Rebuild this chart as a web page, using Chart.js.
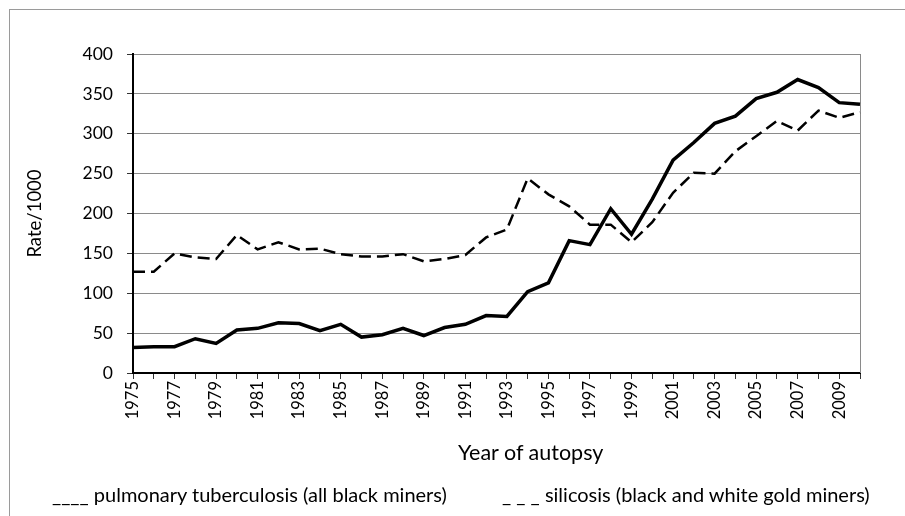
<!DOCTYPE html>
<html>
<head>
<meta charset="utf-8">
<script src="https://cdn.jsdelivr.net/npm/chart.js@4"></script>
<style>
  html, body { margin:0; padding:0; background:#fff; overflow:hidden; }
  #wrap { position:relative; width:905px; height:516px; overflow:hidden; font-family: Lato, "Open Sans", sans-serif; color:#000; }
  #frame { position:absolute; left:9px; top:9px; width:1000px; height:1000px; border-left:1px solid #9a9a9a; border-top:1px solid #9a9a9a; }
  canvas { position:absolute; left:0; top:0; }
  .txt { position:absolute; white-space:pre; font-size:20px; line-height:24px; }
</style>
</head>
<body>
<div id="wrap">
  <div id="frame"></div>
  <canvas id="c" width="905" height="516"></canvas>
  <div class="txt" id="xtitle" style="left:458px; top:439px; font-size:21.5px; line-height:26px;">Year of autopsy</div>
  <div class="txt" id="leg1" style="left:52px; top:482px;">____ pulmonary tuberculosis (all black miners)</div>
  <div class="txt" id="leg2" style="left:502px; top:482px;">_ _ _ silicosis (black and white gold miners)</div>
</div>
<script>
const years = ["1975","1976","1977","1978","1979","1980","1981","1982","1983","1984",
  "1985","1986","1987","1988","1989","1990","1991","1992","1993","1994",
  "1995","1996","1997","1998","1999","2000","2001","2002","2003","2004",
  "2005","2006","2007","2008","2009","2010"];
const tickLabels = ["1975","1977","1979","1981","1983","1985","1987","1989","1991",
  "1993","1995","1997","1999","2001","2003","2005","2007","2009"];
const tuberculosis = [32,33,33,43,37,54,56,63,62,53,61,45,48,56,47,57,61,72,71,102,
  113,166,161,206,174,218,267,289,313,322,344,352,368,358,339,337];
const silicosis = [127,127,150,145,143,173,155,164,155,156,149,146,146,149,140,143,148,170,180,244,
  224,209,186,186,164,189,226,251,250,278,297,316,304,329,320,327];
const yTicks = [0,50,100,150,200,250,300,350,400];

const plotFrame = {
  id: 'plotFrame',
  beforeDatasetsDraw(chart) {
    const a = chart.chartArea, ctx = chart.ctx;
    ctx.save();
    ctx.strokeStyle = '#8a8a8a';
    ctx.lineWidth = 1;
    ctx.beginPath();
    ctx.moveTo(Math.round(a.right) + 0.5, a.top);
    ctx.lineTo(Math.round(a.right) + 0.5, a.bottom);
    ctx.stroke();
    ctx.restore();
  }
};

new Chart(document.getElementById('c'), {
  type: 'line',
  data: {
    labels: years,
    datasets: [
      { label: 'pulmonary tuberculosis (all black miners)', data: tuberculosis,
        borderColor: '#000', borderWidth: 3.5, pointRadius: 0, tension: 0, fill: false },
      { label: 'silicosis (black and white gold miners)', data: silicosis,
        borderColor: '#000', borderWidth: 2.5, borderDash: [12, 6], pointRadius: 0, tension: 0, fill: false }
    ]
  },
  plugins: [plotFrame],
  options: {
    responsive: false,
    animation: false,
    devicePixelRatio: 1,
    layout: { padding: { top: 54, right: 45, left: 0, bottom: 0 } },
    plugins: { legend: { display: false }, tooltip: { enabled: false } },
    scales: {
      x: {
        type: 'category',
        offset: false,
        afterFit(s) { s.height = 143; },
        grid: { display: true, drawOnChartArea: false, drawTicks: true, tickLength: 6, tickColor: '#333', tickWidth: 1 },
        border: { display: true, color: '#000', width: 2 },
        ticks: {
          autoSkip: false, maxRotation: 90, minRotation: 90, padding: 2,
          color: '#000', font: { family: 'Lato', size: 16.5 },
          callback(v, i) { const l = years[i]; return tickLabels.includes(l) ? l : ''; }
        },
        title: { display: false }
      },
      y: {
        min: 0, max: 400,
        afterFit(s) { s.width = 133; },
        afterBuildTicks(s) { s.ticks = yTicks.map(v => ({ value: v })); },
        grid: { color: '#8a8a8a', lineWidth: 1, drawTicks: true, tickLength: 6, tickColor: '#333' },
        border: { display: true, color: '#000', width: 2 },
        ticks: { padding: 14, color: '#000', font: { family: 'Lato', size: 17.5 } },
        title: { display: true, text: 'Rate/1000', color: '#000', font: { family: 'Lato', size: 18.5 }, padding: { top: 24, bottom: 0 } }
      }
    }
  }
});
</script>
</body>
</html>
